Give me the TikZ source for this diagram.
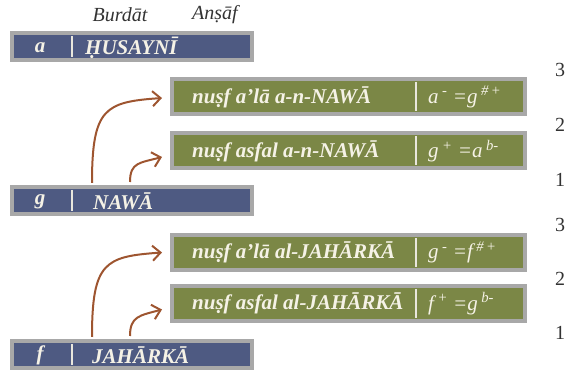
\documentclass[tikz,border=0pt]{standalone}
\usepackage{fontspec}
\setmainfont{Liberation Serif}
\usetikzlibrary{arrows.meta,calc}
\definecolor{boxblue}{HTML}{4E5A82}
\definecolor{boxgreen}{HTML}{7B8746}
\definecolor{boxframe}{HTML}{A8A8A8}
\definecolor{arrowbrown}{HTML}{9E5530}
\definecolor{labeltext}{HTML}{F5F2E6}
\definecolor{headtext}{HTML}{333333}
\tikzset{
  bluebox/.style={draw=boxframe, line width=4pt, fill=boxblue, minimum width=240pt, minimum height=27pt, anchor=north west, inner sep=0pt},
  greenbox/.style={draw=boxframe, line width=4pt, fill=boxgreen, minimum width=353pt, minimum height=35pt, inner sep=0pt},
  boxtext/.style={text=labeltext, font=\fontsize{21}{24}\selectfont\bfseries\itshape, inner sep=0pt},
  formtext/.style={text=labeltext, font=\fontsize{21}{24}\selectfont\itshape, inner sep=0pt, anchor=west},
  divline/.style={draw=labeltext!85!boxframe, line width=1.5pt},
  headlbl/.style={text=headtext, font=\fontsize{20}{22}\selectfont\itshape},
  numlbl/.style={text=headtext, font=\fontsize{20}{22}\selectfont},
  curvearrow/.style={draw=arrowbrown, line width=2pt, -{Straight Barb[length=8pt,width=15pt,line width=2pt]}}
}
\begin{document}
\begin{tikzpicture}[x=1pt,y=-1pt]
\useasboundingbox (0,0) rectangle (566,371);
% headings
\node[headlbl] (hB) at (120,15) {Burdāt};
\node[headlbl] (hA) at (215,15) {Anṣāf};
% blue boxes
\node[bluebox] (bA) at (10,31) {};
\node[bluebox] (bG) at (10,185) {};
\node[bluebox] (bF) at (10,339) {};
\foreach \b/\l/\t/\o in {bA/a/ḤUSAYNĪ/75, bG/g/NAWĀ/83, bF/f/JAHĀRKĀ/82}{
  \node[boxtext] (\b l) at ($(\b.west)+(30,1)$) {\l};
  \node[boxtext, anchor=west] (\b t) at ($(\b.west)+(\o,1)$) {\t};
  \draw[divline] ($(\b.north west)+(62,5)$) -- ($(\b.south west)+(62,-5)$);
}
% green boxes
\node[greenbox] (gA1) at (348.5,97) {};
\node[greenbox] (gA2) at (348.5,151) {};
\node[greenbox] (gF1) at (348.5,252.5) {};
\node[greenbox] (gF2) at (348.5,303.5) {};
\foreach \b/\t in {gA1/{nuṣf a’lā a-n-NAWĀ}, gA2/{nuṣf asfal a-n-NAWĀ}, gF1/{nuṣf a’lā al-JAHĀRKĀ}, gF2/{nuṣf asfal al-JAHĀRKĀ}}{
  \node[boxtext, anchor=west] (\b t) at ($(\b.west)+(22,0)$) {\t};
  \draw[divline] ($(\b.north west)+(246,5)$) -- ($(\b.south west)+(246,-5)$);
}
\node[formtext] (gA1f) at ($(gA1.west)+(258,0)$) {a\,\textsuperscript{-} =g\,\textsuperscript{\#\,+}};
\node[formtext] (gA2f) at ($(gA2.west)+(258,0)$) {g\,\textsuperscript{+} =a\,\textsuperscript{b-}};
\node[formtext] (gF1f) at ($(gF1.west)+(258,0)$) {g\,\textsuperscript{-} =f\,\textsuperscript{\#\,+}};
\node[formtext] (gF2f) at ($(gF2.west)+(258,0)$) {f\,\textsuperscript{+} =g\,\textsuperscript{b-}};
% arrows
\draw[curvearrow] ($(bG.north west)+(82,-2)$) .. controls +(0,-75) and +(-57,4) .. ($(gA1.west)+(-8,1)$);
\draw[curvearrow] ($(bG.north west)+(120,-3)$) .. controls +(0,-20) and +(-22,6) .. ($(gA2.west)+(-8,6)$);
\draw[curvearrow] ($(bF.north west)+(82,-2)$) .. controls +(0,-75) and +(-57,4) .. ($(gF1.west)+(-8,0)$);
\draw[curvearrow] ($(bF.north west)+(120,-3)$) .. controls +(0,-20) and +(-22,6) .. ($(gF2.west)+(-8,6)$);
% numbers
\node[numlbl] (n1) at (560,70) {3};
\node[numlbl] (n2) at (560,125) {2};
\node[numlbl] (n3) at (560,180) {1};
\node[numlbl] (n4) at (560,225) {3};
\node[numlbl] (n5) at (560,279) {2};
\node[numlbl] (n6) at (560,333) {1};
\end{tikzpicture}
\end{document}
